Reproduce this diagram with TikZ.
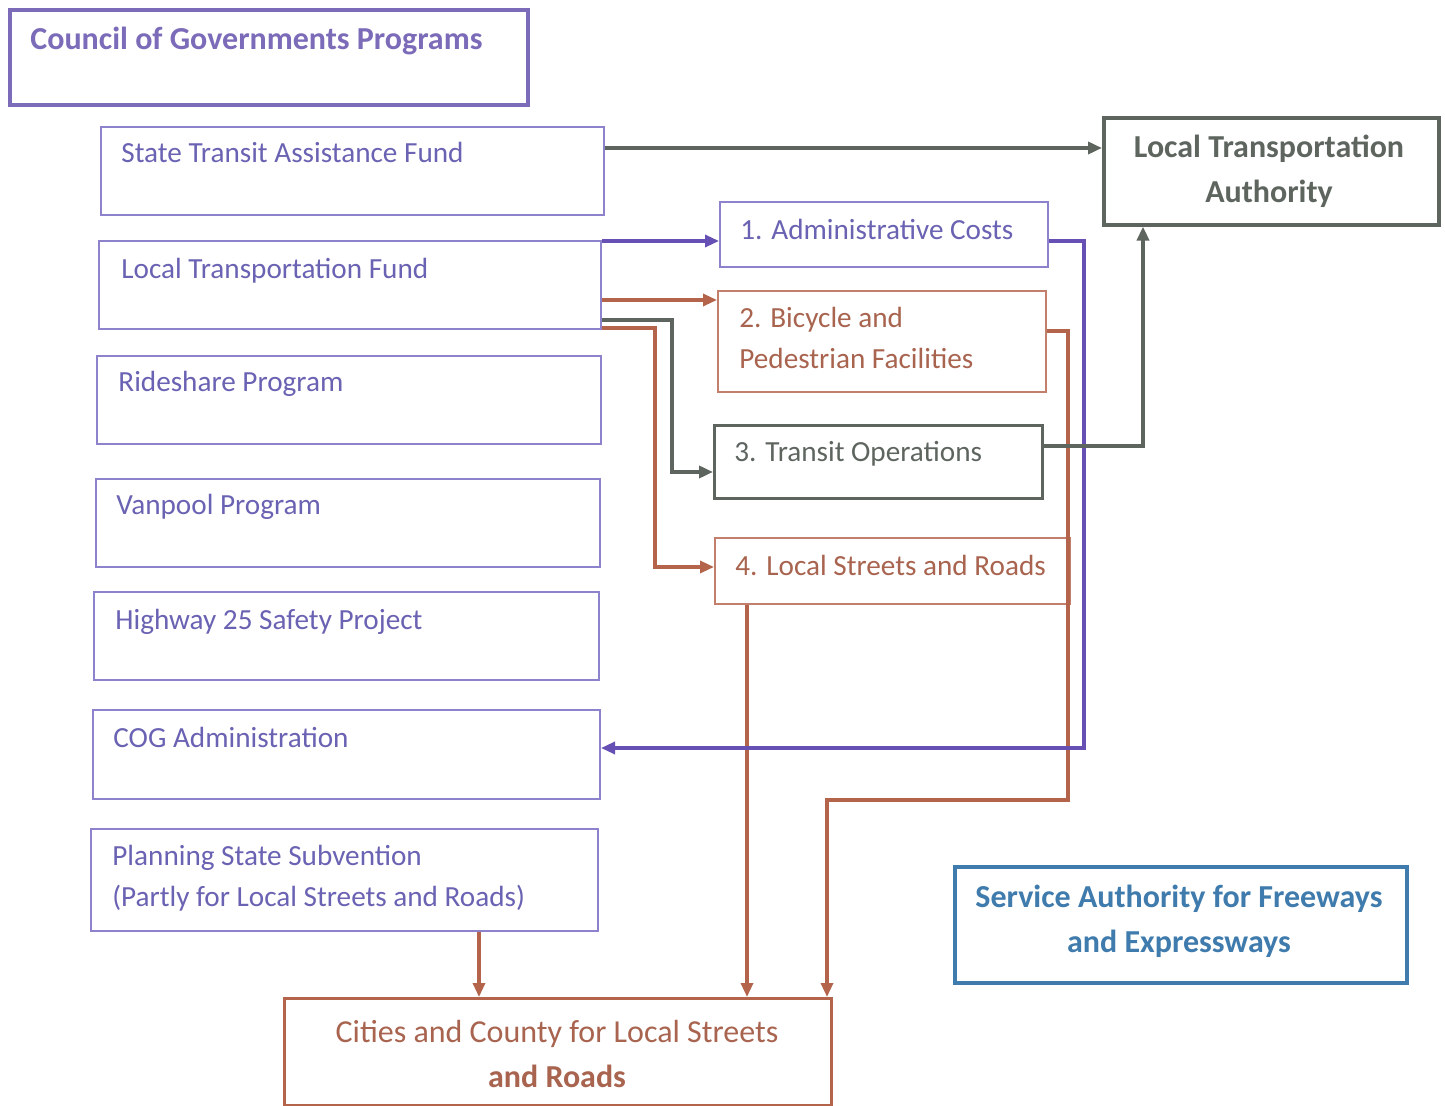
\documentclass[tikz,border=0pt]{standalone}
\usepackage{fontspec}
\setmainfont{Carlito}
\usetikzlibrary{arrows.meta,calc}
\definecolor{cogpurple}{HTML}{7B6BB8}
\definecolor{boxpurple}{HTML}{8C83CC}
\definecolor{txtpurple}{HTML}{6A62B2}
\definecolor{linepurple}{HTML}{6650B4}
\definecolor{rbrown}{HTML}{B5644C}
\definecolor{boxbrown}{HTML}{C27F6B}
\definecolor{txtbrown}{HTML}{A8644F}
\definecolor{gry}{HTML}{5E655F}
\definecolor{blu}{HTML}{3F7BAC}
\tikzset{
  box/.style={draw, rectangle, anchor=north west, inner sep=0pt},
  lbox/.style={box, draw=boxpurple, line width=1pt},
  txt/.style={anchor=base west, inner sep=0pt, font=\fontsize{14.6}{20.5}\selectfont},
  ptxt/.style={txt, text=txtpurple},
  btxt/.style={inner sep=0pt, font=\bfseries\fontsize{16}{22.5}\selectfont, align=center},
  conn/.style={line width=1.6pt, -{Triangle[length=7pt,width=6pt]}},
}
\begin{document}
\begin{tikzpicture}[x=0.5pt,y=-0.5pt]
\useasboundingbox[fill=white] (0,0) rectangle (1445,1106);
% title
\node[box, draw=cogpurple, line width=1.8pt, minimum width=259pt, minimum height=47.5pt] (cog) at (8,8) {};
\node[txt, text=cogpurple, font=\bfseries\fontsize{16}{20}\selectfont] (cogt) at (30,50) {Council of Governments Programs};
% left column
\node[lbox, minimum width=251.5pt, minimum height=44pt] (stf) at (100,126) {};
\node[ptxt] (stft) at (121,163) {State Transit Assistance Fund};
\node[lbox, minimum width=251pt, minimum height=44pt] (ltf) at (98,240) {};
\node[ptxt] (ltft) at (121,279) {Local Transportation Fund};
\node[lbox, minimum width=252pt, minimum height=44pt] (ride) at (96,355) {};
\node[ptxt] (ridet) at (118,392) {Rideshare Program};
\node[lbox, minimum width=252pt, minimum height=44pt] (van) at (95,478) {};
\node[ptxt] (vant) at (116,515) {Vanpool Program};
\node[lbox, minimum width=252.5pt, minimum height=44pt] (hwy) at (93,591) {};
\node[ptxt] (hwyt) at (115,629) {Highway 25 Safety Project};
\node[lbox, minimum width=253.5pt, minimum height=44.5pt] (coga) at (92,709) {};
\node[ptxt] (cogat) at (113,747) {COG Administration};
\node[lbox, minimum width=253.5pt, minimum height=51pt] (plan) at (90,828) {};
\node[ptxt, align=left] (plant) at (112,906) {Planning State Subvention\\(Partly for Local Streets and Roads)};
% bottom
\node[box, draw=rbrown, line width=1.6pt, minimum width=273.5pt, minimum height=53.5pt] (city) at (283,997) {};
\node[btxt, text=txtbrown, anchor=base] (cityt) at (557,1087) {{\mdseries Cities and County for Local Streets}\\and Roads};
% middle
\node[box, draw=boxpurple, line width=1pt, minimum width=164pt, minimum height=32.5pt] (adm) at (719,201) {};
\node[ptxt, text=txtpurple] (admt) at (740,240) {1. Administrative Costs};
\node[box, draw=boxbrown, line width=1pt, minimum width=164pt, minimum height=50.5pt] (bike) at (717,290) {};
\node[txt, text=txtbrown, align=left] (biket) at (739,369) {2. Bicycle and\\Pedestrian Facilities};
\node[box, draw=gry, line width=1.3pt, minimum width=164pt, minimum height=36.5pt] (tops) at (713,424) {};
\node[txt, text=gry] (topst) at (734,462) {3. Transit Operations};
\node[box, draw=boxbrown, line width=1pt, minimum width=177.5pt, minimum height=33pt] (lsr) at (714,537) {};
\node[txt, text=txtbrown] (lsrt) at (735,575) {4. Local Streets and Roads};
% right
\node[box, draw=gry, line width=1.8pt, minimum width=167.5pt, minimum height=53.5pt] (lta) at (1102,116) {};
\node[btxt, text=gry, anchor=base] (ltat) at (1269,203) {Local Transportation\\Authority};
\node[box, draw=blu, line width=1.8pt, minimum width=226pt, minimum height=58pt] (safe) at (953,865) {};
\node[btxt, text=blu, anchor=base] (safet) at (1179,952) {Service Authority for Freeways\\and Expressways};
% helper coordinates
\coordinate (y148) at (0,148);
\coordinate (y241) at (0,241);
\coordinate (y300) at (0,300);
\coordinate (y320) at (0,320);
\coordinate (y328) at (0,328);
\coordinate (y331) at (0,331);
\coordinate (y446) at (0,446);
\coordinate (y472) at (0,472);
\coordinate (y567) at (0,567);
\coordinate (y748) at (0,748);
\coordinate (y800) at (0,800);
\coordinate (x479) at (479,0);
\coordinate (x655) at (655,0);
\coordinate (x672) at (672,0);
\coordinate (x747) at (747,0);
\coordinate (x827) at (827,0);
\coordinate (x1068) at (1068,0);
\coordinate (x1084) at (1084,0);
\coordinate (x1143) at (1143,0);
% connectors
\draw[conn, rbrown] (ltf.east |- y328) -- (x655 |- y328) -- (x655 |- y567) -- (lsr.west |- y567);
\draw[conn, rbrown] (ltf.east |- y300) -- (bike.west |- y300);
\draw[conn, rbrown] (bike.east |- y331) -- (x1068 |- y331) -- (x1068 |- y800) -- (x827 |- y800) -- (x827 |- city.north);
\draw[conn, rbrown] (x747 |- lsr.south) -- (x747 |- city.north);
\draw[conn, rbrown] (x479 |- plan.south) -- (x479 |- city.north);
\draw[conn, linepurple] (ltf.east |- y241) -- (adm.west |- y241);
\draw[conn, linepurple] (adm.east |- y241) -- (x1084 |- y241) -- (x1084 |- y748) -- (coga.east |- y748);
\draw[conn, gry, line width=2pt] (ltf.east |- y320) -- (x672 |- y320) -- (x672 |- y472) -- (tops.west |- y472);
\draw[conn, gry, line width=2pt] (stf.east |- y148) -- (lta.west |- y148);
\draw[conn, gry, line width=2pt] (tops.east |- y446) -- (x1143 |- y446) -- (x1143 |- lta.south);
\end{tikzpicture}
\end{document}
